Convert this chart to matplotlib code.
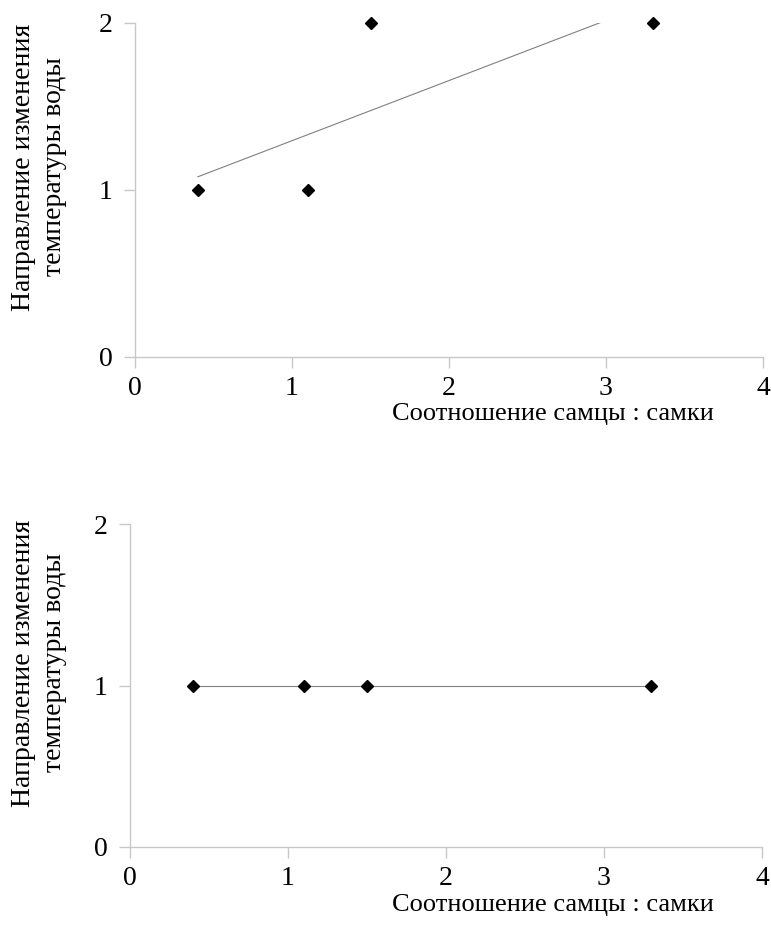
import numpy as np
import matplotlib
matplotlib.use('Agg')
import matplotlib.pyplot as plt

plt.rcParams['font.family'] = ['Liberation Serif', 'DejaVu Serif']

# данные
ratio = [0.4, 1.1, 1.5, 3.3]
direction_top = [1, 1, 2, 2]
direction_bottom = [1, 1, 1, 1]

x_ticks = [0, 1, 2, 3, 4]
y_ticks = [0, 1, 2]
y_label = 'Направление изменения\nтемпературы воды'
x_label = 'Соотношение самцы : самки'

spine_color = '#c8c8c8'
fs = 20

fig = plt.figure(figsize=(7.71, 9.42), dpi=100)

# top / bottom axes positions in figure coords
ax_top = fig.add_axes([135 / 771, 1 - 357 / 942, (763 - 135) / 771, (357 - 22.5) / 942])
ax_bot = fig.add_axes([130 / 771, 1 - 847 / 942, (762 - 130) / 771, (847 - 524) / 942])


def style_axes(ax):
    ax.set_xlim(0, 4)
    ax.set_ylim(0, 2)
    ax.set_xticks(x_ticks)
    ax.set_yticks(y_ticks)
    for s in ['top', 'right']:
        ax.spines[s].set_visible(False)
    for s in ['left', 'bottom']:
        ax.spines[s].set_color(spine_color)
        ax.spines[s].set_linewidth(1.0)
    ax.tick_params(direction='out', length=8, width=1.0, color=spine_color,
                   labelsize=fs)
    ax.tick_params(axis='x', pad=6)
    ax.tick_params(axis='y', pad=8)


# верхний график: точки + линейный тренд
style_axes(ax_top)
k, b = np.polyfit(ratio, direction_top, 1)
xs = np.array([min(ratio), max(ratio)])
ax_top.plot(xs, k * xs + b, color='#808080', lw=0.8)
ax_top.plot(ratio, direction_top, 'D', color='black', ms=6, clip_on=False, zorder=5)

# нижний график
style_axes(ax_bot)
k2, b2 = np.polyfit(ratio, direction_bottom, 1)
ax_bot.plot(xs, k2 * xs + b2, color='#808080', lw=0.8)
ax_bot.plot(ratio, direction_bottom, 'D', color='black', ms=6, clip_on=False, zorder=5)

# подписи осей
for yc in [167, 663]:
    fig.text(39 / 771, 1 - yc / 942, y_label, rotation=90, ha='center', va='center',
             fontsize=fs, linespacing=1.3)
fig.text(553 / 771, 1 - 414 / 942, x_label, ha='center', va='center', fontsize=19)
fig.text(553 / 771, 1 - 905 / 942, x_label, ha='center', va='center', fontsize=19)

fig.savefig('out.png', dpi=100)
